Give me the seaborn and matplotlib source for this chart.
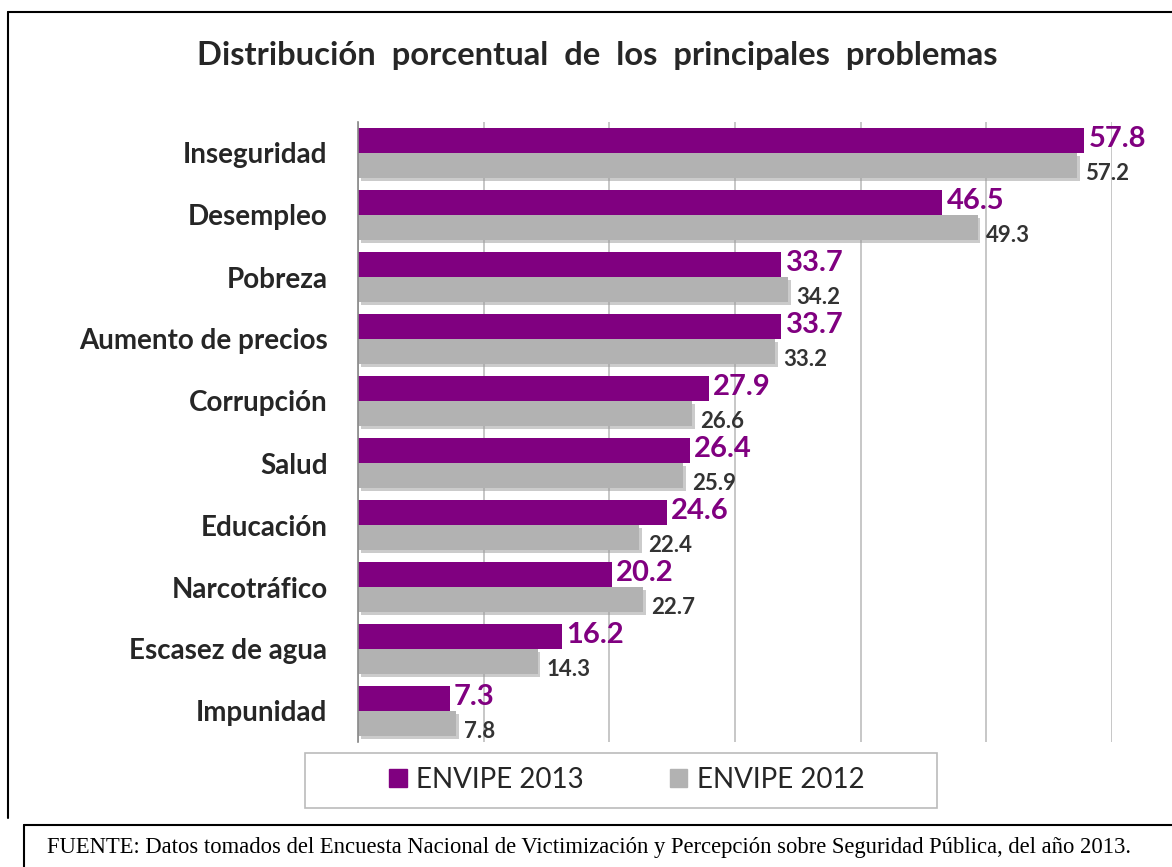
import matplotlib
matplotlib.use('Agg')
import pandas as pd
import seaborn as sns
import matplotlib.pyplot as plt
import matplotlib.patheffects as pe
from matplotlib.lines import Line2D
from matplotlib.patches import Rectangle

problemas = ['Inseguridad', 'Desempleo', 'Pobreza', 'Aumento de precios', 'Corrupción',
             'Salud', 'Educación', 'Narcotráfico', 'Escasez de agua', 'Impunidad']
envipe_2013 = [57.8, 46.5, 33.7, 33.7, 27.9, 26.4, 24.6, 20.2, 16.2, 7.3]
envipe_2012 = [57.2, 49.3, 34.2, 33.2, 26.6, 25.9, 22.4, 22.7, 14.3, 7.8]
series = ['ENVIPE 2013', 'ENVIPE 2012']

PURPLE = '#800080'
GRAY = '#b2b2b2'
DARK = '#262626'

df = pd.DataFrame({
    'problema': problemas * 2,
    'valor': envipe_2013 + envipe_2012,
    'serie': [series[0]] * len(problemas) + [series[1]] * len(problemas),
})

sns.set_style('white')
plt.rcParams['font.family'] = ['Lato', 'DejaVu Sans']

W, H = 1172, 867
fig = plt.figure(figsize=(W / 100, H / 100), dpi=100)
ax = fig.add_axes([358 / W, 1 - 742 / H, (1112 - 358) / W, (742 - 122) / H])

sns.barplot(data=df, y='problema', x='valor', hue='serie', palette=[PURPLE, GRAY],
            orient='h', width=0.8, saturation=1, ax=ax, legend=False)

# light shadow under the gray bars
for i, cont in enumerate(ax.containers):
    for p in cont:
        p.set_edgecolor('none')
        if i == 1:
            p.set_path_effects([pe.SimplePatchShadow(offset=(2, -2), shadow_rgbFace='#999999', alpha=0.5),
                                pe.Normal()])

# data labels
for p, v in zip(ax.containers[0], envipe_2013):
    ax.annotate(f'{v:.1f}', (p.get_width(), p.get_y() + p.get_height() / 2),
                xytext=(3, 1), textcoords='offset points', ha='left', va='center',
                fontsize=21, fontweight='bold', color=PURPLE, annotation_clip=False)
for p, v in zip(ax.containers[1], envipe_2012):
    ax.annotate(f'{v:.1f}', (p.get_width(), p.get_y() + p.get_height() / 2),
                xytext=(6, -6), textcoords='offset points', ha='left', va='center',
                fontsize=16, fontweight='bold', color='#333333', annotation_clip=False)

ax.set_xlim(0, 60)
ax.set_ylim(len(problemas) - 0.5, -0.5)
ax.set_xticks(range(0, 61, 10))
ax.set_xticklabels([])
ax.tick_params(axis='x', length=0)
ax.xaxis.grid(True, color='#c3c3c3', linewidth=1.3)
ax.set_axisbelow(True)
ax.set_xlabel('')
ax.set_ylabel('')

ax.tick_params(axis='y', which='major', length=0, pad=22, labelsize=20, labelcolor=DARK)
for t in ax.get_yticklabels():
    t.set_fontweight('bold')
ax.set_yticks([i - 0.5 for i in range(len(problemas) + 1)], minor=True)
ax.tick_params(axis='y', which='minor', length=8, width=1.2, color='#888888', direction='out')

for s in ['top', 'right', 'bottom']:
    ax.spines[s].set_visible(False)
ax.spines['left'].set_color('#888888')
ax.spines['left'].set_linewidth(1.2)

# legend with its own box
fig.add_artist(Rectangle((305 / W, 1 - 808 / H), 632 / W, 55 / H, transform=fig.transFigure,
                         facecolor='white', edgecolor='#bbbbbb', linewidth=1.2))
handles = [Rectangle((0, 0), 1, 1, color=PURPLE), Rectangle((0, 0), 1, 1, color=GRAY)]
leg = fig.legend(handles, series, ncol=2, loc='center',
                 bbox_to_anchor=(627 / W, 1 - 780 / H), frameon=False,
                 fontsize=20, handlelength=0.62, handleheight=0.62, handletextpad=0.35,
                 columnspacing=3.1)
for t in leg.get_texts():
    t.set_color(DARK)

fig.text(597 / W, 1 - 56 / H,
         'Distribución  porcentual  de  los  principales  problemas',
         ha='center', va='center', fontsize=23.6, fontweight='bold', color=DARK)

fig.text(47 / W, 1 - 848 / H,
         'FUENTE: Datos tomados del Encuesta Nacional de Victimización y Percepción sobre '
         'Seguridad Pública, del año 2013.',
         ha='left', va='center', fontsize=16.3, family='Liberation Serif', color='black')

# outer frames
fig.add_artist(Line2D([8 / W, 1], [1 - 12 / H] * 2, color='black', linewidth=1.5))
fig.add_artist(Line2D([8 / W] * 2, [1 - 12 / H, 1 - 818 / H], color='black', linewidth=1.5))
fig.add_artist(Line2D([24 / W, 1], [1 - 825 / H] * 2, color='black', linewidth=1.5))
fig.add_artist(Line2D([24 / W] * 2, [1 - 825 / H, 0], color='black', linewidth=1.5))

fig.savefig('out.png', dpi=100)
